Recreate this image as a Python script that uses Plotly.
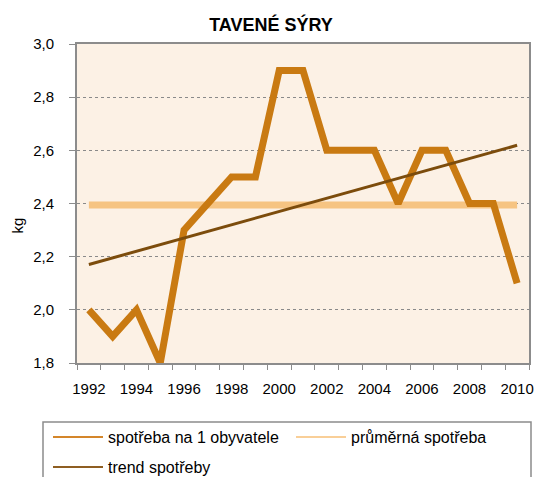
import numpy as np
import plotly.graph_objects as go

years = list(range(1992, 2011))
consumption = [2.0, 1.9, 2.0, 1.8, 2.3, 2.4, 2.5, 2.5, 2.9, 2.9,
               2.6, 2.6, 2.6, 2.4, 2.6, 2.6, 2.4, 2.4, 2.1]
year_labels = [str(y) for y in range(1992, 2011, 2)]
y_ticks = [1.8, 2.0, 2.2, 2.4, 2.6, 2.8, 3.0]
names = ["spotřeba na 1 obyvatele", "průměrná spotřeba", "trend spotřeby"]

avg = float(np.mean(consumption))
average = [avg] * len(years)
coef = np.polyfit(np.arange(len(years)), consumption, 1)
trend = list(np.polyval(coef, np.arange(len(years))))

C_MAIN = "#C97A12"
C_AVG = "#F6C482"
C_TREND = "#7C4C0C"
GRAY = "#8C8C8C"
FONT = "Liberation Sans, Arial, sans-serif"
W, H = 536, 477

fig = go.Figure()
fig.add_trace(go.Scatter(x=years, y=average, mode="lines", showlegend=False,
                         line=dict(color=C_AVG, width=7), hoverinfo="skip"))
fig.add_trace(go.Scatter(x=years, y=consumption, mode="lines", showlegend=False,
                         line=dict(color=C_MAIN, width=7)))
fig.add_trace(go.Scatter(x=years, y=trend, mode="lines", showlegend=False,
                         line=dict(color=C_TREND, width=3), hoverinfo="skip"))

# legend entries (thin samples, like the original)
fig.add_trace(go.Scatter(x=[None], y=[None], mode="lines", name=names[0],
                         line=dict(color="#D4862A", width=2), legend="legend"))
fig.add_trace(go.Scatter(x=[None], y=[None], mode="lines", name=names[1],
                         line=dict(color="#F9CF98", width=2), legend="legend2"))
fig.add_trace(go.Scatter(x=[None], y=[None], mode="lines", name=names[2],
                         line=dict(color="#8E5E22", width=2), legend="legend3"))


def leg(x_px, y_px):
    return dict(orientation="h", xref="container", yref="container",
                x=x_px / W, xanchor="left", y=1 - y_px / H, yanchor="top",
                bgcolor="rgba(0,0,0,0)", borderwidth=0, itemwidth=50,
                font=dict(size=16))


fig.update_layout(
    width=W, height=H, autosize=False,
    margin=dict(l=77, r=7, t=44, b=114, pad=0, autoexpand=False),
    paper_bgcolor="white", plot_bgcolor="#FCF1E5",
    separators=", ",
    font=dict(family=FONT, size=15, color="black"),
    title=dict(text="<b>TAVENÉ SÝRY</b>", x=271 / W, xref="container", xanchor="center",
               yref="container", y=1 - 24.5 / H, yanchor="middle",
               font=dict(family=FONT, size=18, color="black")),
    xaxis=dict(range=[1991.5, 2010.5], tickmode="array", automargin=False,
               tickvals=[int(t) for t in year_labels], ticktext=year_labels,
               ticks="", ticklabelstandoff=11, showgrid=False, zeroline=False,
               showline=True, linecolor=GRAY, linewidth=2, mirror=True,
               tickfont=dict(size=15),
               minor=dict(tickmode="linear", tick0=1991.5, dtick=1, ticks="outside",
                          ticklen=5, tickcolor=GRAY, tickwidth=1, showgrid=False)),
    yaxis=dict(range=[1.8, 3.0], tickmode="array", tickvals=y_ticks, automargin=False,
               tickformat=".1f", ticks="outside", ticklen=6, tickcolor=GRAY,
               ticklabelstandoff=12,
               showgrid=True, gridcolor="#8A8A8A", griddash="dot", gridwidth=1,
               zeroline=False, showline=True, linecolor=GRAY, linewidth=2, mirror=True,
               tickfont=dict(size=15)),
    annotations=[dict(text="kg", textangle=-90, showarrow=False,
                      xref="paper", yref="paper",
                      x=(16.5 - 77) / 452, y=(363 - 225) / 319,
                      xanchor="center", yanchor="middle",
                      font=dict(family=FONT, size=15, color="black"))],
    legend=leg(48, 420),
    legend2=leg(291, 420),
    legend3=leg(48, 450),
    shapes=[dict(type="rect", xref="paper", yref="paper",
                 x0=(43 - 77) / 452, x1=(531 - 77) / 452,
                 y0=(363 - 422) / 319, y1=(363 - 495) / 319,
                 line=dict(color=GRAY, width=1.5), fillcolor="rgba(0,0,0,0)",
                 layer="above")],
)

fig.write_html("out.html", config={"displayModeBar": False},
               post_script="document.body.style.margin='0';")
